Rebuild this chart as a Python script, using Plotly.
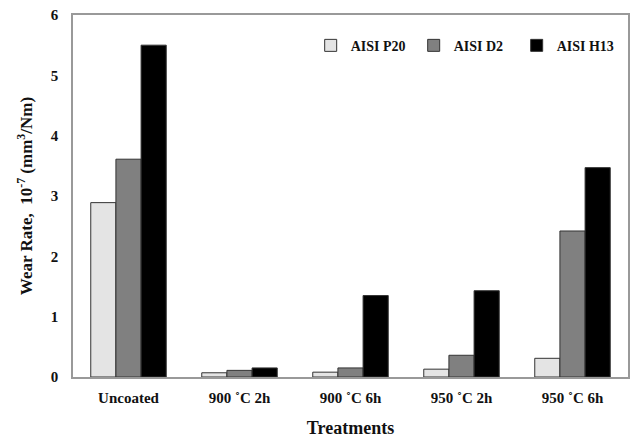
import plotly.graph_objects as go

categories = ["Uncoated", "900 ˚C 2h", "900 ˚C 6h", "950 ˚C 2h", "950 ˚C 6h"]
series_names = ["AISI P20", "AISI D2", "AISI H13"]
p20 = [2.89, 0.07, 0.08, 0.13, 0.31]
d2 = [3.61, 0.11, 0.15, 0.36, 2.42]
h13 = [5.50, 0.15, 1.35, 1.43, 3.47]
colors = ["#e4e4e4", "#808080", "#000000"]
y_ticks = [0, 1, 2, 3, 4, 5, 6]

FONT = "Liberation Serif"

fig = go.Figure()
for name, vals, col in zip(series_names, [p20, d2, h13], colors):
    fig.add_trace(go.Bar(
        x=categories, y=vals, name=f"<b>{name}</b>",
        marker=dict(color=col, line=dict(color="#333333", width=1)),
    ))

fig.update_layout(
    width=633, height=438,
    margin=dict(l=73, r=5, t=15, b=61),
    paper_bgcolor="white", plot_bgcolor="white",
    barmode="group", bargap=0.32, bargroupgap=0,
    font=dict(family=FONT, size=14, color="#111111"),
    showlegend=True,
    legend=dict(
        orientation="h", x=0.985, xanchor="right", y=0.915, yanchor="middle",
        font=dict(family=FONT, size=14, color="#111111"),
        bgcolor="rgba(0,0,0,0)", itemwidth=30, traceorder="normal",
        entrywidth=58,
    ),
    xaxis=dict(
        showline=True, linecolor="#999999", linewidth=1.5, mirror=True,
        ticks="", tickfont=dict(family=FONT, size=15, color="#111111"),
        tickvals=categories, ticktext=[f"<b>{c}</b>" for c in categories],
        ticklabelstandoff=6, automargin=False,
        title=dict(text="<b>Treatments</b>", font=dict(family=FONT, size=18, color="#111111"), standoff=17),
    ),
    yaxis=dict(
        range=[0, 6], tickvals=y_ticks,
        ticktext=[f"<b>{v}</b>" for v in y_ticks],
        showline=True, linecolor="#999999", linewidth=1.5, mirror=True,
        showgrid=False, zeroline=False, ticks="",
        tickfont=dict(family=FONT, size=15, color="#111111"),
        ticklabelstandoff=10, automargin=False,
        title=dict(text="<b>Wear Rate,  10<sup>-7</sup> (mm<sup>3</sup>/Nm)</b>",
                   font=dict(family=FONT, size=17, color="#111111"), standoff=14),
    ),
)

fig.write_html("out.html")
